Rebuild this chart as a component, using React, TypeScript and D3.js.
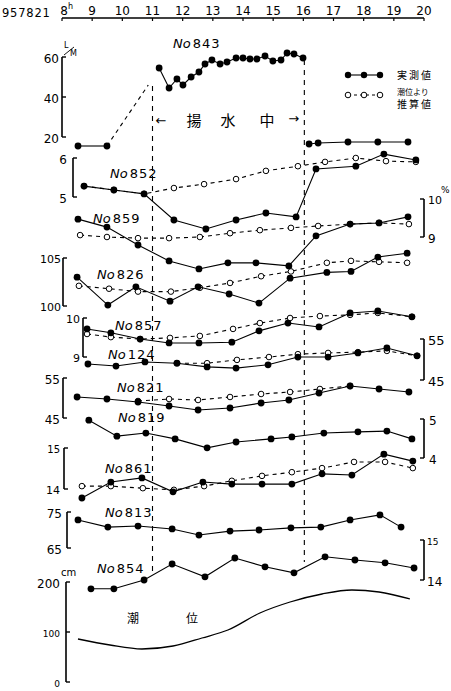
import React from 'react';
import * as d3 from 'd3';

// ---------- data ----------
const hourTicks = [8, 9, 10, 11, 12, 13, 14, 15, 16, 17, 18, 19, 20];
const pumpStart = 11;
const pumpEnd = 16;

// No843 pumping rate (L/min)
const t843Before = [8.53, 9.49];
const v843Before = [15.5, 15.5];
const t843Guess = [9.49, 10.86];
const v843Guess = [15.5, 46];
const t843Pump = [11.22, 11.55, 11.81, 12.01, 12.28, 12.54, 12.74, 12.97, 13.24, 13.47, 13.77, 14.0, 14.23, 14.46, 14.73, 14.99, 15.26, 15.46, 15.69, 15.99];
const v843Pump = [54.5, 44.5, 49, 46, 50, 52.5, 56.5, 58.5, 56.5, 57.5, 59.5, 59.5, 59, 59, 60.5, 58, 58.5, 62, 61.5, 59.5];
const t843After = [16.19, 16.49, 17.48, 18.47, 19.47];
const v843After = [16.5, 17, 17.5, 17.5, 17.5];

// No852
const t852Obs = [8.73, 9.72, 10.72, 11.71, 12.77, 13.77, 14.76, 15.76, 16.42, 17.74, 18.67, 19.73];
const v852Obs = [5.28, 5.18, 5.08, 4.41, 4.18, 4.41, 4.59, 4.49, 5.72, 5.79, 6.1, 5.95];
const t852Est = [8.73, 9.72, 10.72, 11.71, 12.71, 13.77, 14.76, 15.82, 16.72, 17.74, 18.74, 19.73];
const v852Est = [5.28, 5.18, 5.08, 5.23, 5.33, 5.46, 5.67, 5.79, 5.9, 6.0, 5.92, 5.9];

// No859
const t859Obs = [8.53, 9.49, 10.52, 11.55, 12.54, 13.5, 14.43, 15.52, 16.42, 17.55, 18.51, 19.47];
const v859Obs = [9.47, 9.26, 8.79, 8.37, 8.16, 8.32, 8.32, 8.24, 9.03, 9.34, 9.37, 9.53];
const t859Est = [8.6, 9.49, 10.52, 11.55, 12.57, 13.57, 14.56, 15.59, 16.49, 17.55, 18.51, 19.5];
const v859Est = [9.05, 9.0, 8.97, 8.97, 9.0, 9.1, 9.18, 9.24, 9.29, 9.34, 9.37, 9.34];

// No826
const t826Obs = [8.5, 9.52, 10.45, 11.58, 12.51, 13.54, 14.53, 15.56, 16.78, 17.58, 18.47, 19.44];
const v826Obs = [103.0, 100.1, 102.0, 100.5, 102.0, 101.25, 100.3, 102.9, 103.5, 103.6, 105.1, 105.5];
const t826Est = [8.56, 9.56, 10.52, 11.61, 12.57, 13.57, 14.6, 15.59, 16.78, 17.58, 18.51, 19.44];
const v826Est = [102.1, 101.8, 101.5, 101.5, 101.9, 102.4, 103.1, 103.6, 104.5, 104.7, 104.6, 104.5];

// No857
const t857Obs = [8.83, 9.62, 10.59, 11.55, 12.54, 13.63, 14.53, 15.49, 16.52, 17.55, 18.47, 19.6];
const v857Obs = [9.72, 9.62, 9.46, 9.36, 9.36, 9.38, 9.67, 9.87, 9.77, 10.13, 10.18, 10.03];
const t857Est = [8.83, 9.62, 10.59, 11.58, 12.57, 13.67, 14.56, 15.56, 16.55, 17.55, 18.47, 19.6];
const v857Est = [9.59, 9.51, 9.46, 9.49, 9.54, 9.72, 9.87, 10.0, 10.05, 10.08, 10.13, 10.03];

// No124
const t124Obs = [8.86, 9.79, 10.75, 11.81, 12.81, 13.77, 14.83, 15.82, 16.82, 17.81, 18.77, 19.77];
const v124Obs = [48.9, 48.4, 49.4, 49.1, 48.2, 47.9, 48.7, 50.6, 50.6, 51.6, 52.8, 50.9];
const t124Est = [11.81, 12.81, 13.8, 14.86, 15.82, 16.82, 17.81, 18.77, 19.77];
const v124Est = [49.1, 49.1, 49.9, 50.6, 51.3, 51.6, 51.8, 52.1, 50.9];

// No821
const t821Obs = [8.5, 9.49, 10.52, 11.55, 12.51, 13.57, 14.6, 15.52, 16.52, 17.55, 18.51, 19.5];
const v821Obs = [50.25, 49.75, 49.0, 48.0, 47.0, 47.5, 48.75, 49.5, 51.25, 53.0, 52.25, 51.5];
const t821Est = [10.52, 11.55, 12.51, 13.57, 14.6, 15.56, 16.55, 17.55];
const v821Est = [49.25, 49.75, 49.5, 50.25, 51.0, 51.5, 52.25, 53.0];

// No819
const t819Obs = [8.89, 9.82, 10.78, 11.75, 12.81, 13.77, 14.93, 15.62, 16.68, 17.81, 18.77, 19.6];
const v819Obs = [4.97, 4.56, 4.64, 4.49, 4.26, 4.41, 4.49, 4.54, 4.64, 4.67, 4.69, 4.49];

// No861
const t861Obs = [8.66, 9.62, 10.65, 11.68, 12.67, 13.63, 14.63, 15.62, 16.62, 17.61, 18.67, 19.63];
const v861Obs = [13.78, 14.17, 14.27, 13.93, 14.17, 14.12, 14.12, 14.12, 14.37, 14.34, 14.85, 14.68];
const t861Est = [8.66, 9.62, 10.68, 11.71, 12.71, 13.63, 14.63, 15.62, 16.62, 17.68, 18.71, 19.63];
const v861Est = [14.07, 14.07, 14.02, 13.98, 14.07, 14.2, 14.32, 14.41, 14.51, 14.66, 14.66, 14.51];

// No813
const t813Obs = [8.53, 9.52, 10.52, 11.65, 12.54, 13.57, 14.53, 15.59, 16.58, 17.55, 18.54, 19.24];
const v813Obs = [72.8, 70.8, 71.1, 70.3, 68.6, 69.7, 70.0, 70.6, 70.8, 72.8, 74.2, 70.8];

// No854
const t854Obs = [8.96, 9.72, 10.72, 11.65, 12.74, 13.73, 14.73, 15.69, 16.72, 17.71, 18.71, 19.67];
const v854Obs = [13.78, 13.78, 14.0, 14.4, 14.08, 14.55, 14.33, 14.18, 14.58, 14.5, 14.43, 14.3];

// tide level (cm)
const tTide = [8.53, 9.59, 10.65, 11.68, 12.64, 13.5, 14.56, 15.56, 16.62, 17.61, 18.51, 19.53];
const vTide = [86, 74, 66, 72, 88, 104, 138, 160, 176, 184, 180, 166];

// ---------- layout ----------
type Kind = 'obs' | 'est' | 'guess' | 'plain';
type Ser = { t: number[]; v: number[]; kind: Kind };
type Panel = {
  id: string;
  domain: [number, number];
  range: [number, number];
  side: 'left' | 'right';
  axisX: number;
  ticks: number[];
  tickLabels: string[];
  tickSize: number[];
  gap: number;
  label?: [number, number];
  series: Ser[];
};

const x = d3.scaleLinear().domain([8, 20]).range([62, 424]);

const panels: Panel[] = [
  { id: '843', domain: [20, 60], range: [137, 57], side: 'left', axisX: 62, ticks: [20, 40, 60], tickLabels: ['20', '40', '60'], tickSize: [12, 12, 12], gap: 3, label: [173, 48],
    series: [
      { t: t843Guess, v: v843Guess, kind: 'guess' },
      { t: t843Before, v: v843Before, kind: 'obs' },
      { t: t843Pump, v: v843Pump, kind: 'obs' },
      { t: t843After, v: v843After, kind: 'obs' },
    ] },
  { id: '852', domain: [5, 6], range: [197, 158], side: 'left', axisX: 73, ticks: [5, 6], tickLabels: ['5', '6'], tickSize: [12, 12], gap: 6, label: [110, 178],
    series: [{ t: t852Est, v: v852Est, kind: 'est' }, { t: t852Obs, v: v852Obs, kind: 'obs' }] },
  { id: '859', domain: [9, 10], range: [237, 199], side: 'right', axisX: 424, ticks: [9, 10], tickLabels: ['9', '10'], tickSize: [12, 11], gap: 4, label: [93, 223],
    series: [{ t: t859Est, v: v859Est, kind: 'est' }, { t: t859Obs, v: v859Obs, kind: 'obs' }] },
  { id: '826', domain: [100, 105], range: [306, 258], side: 'left', axisX: 63, ticks: [100, 105], tickLabels: ['100', '105'], tickSize: [11, 11], gap: 2, label: [97, 279],
    series: [{ t: t826Est, v: v826Est, kind: 'est' }, { t: t826Obs, v: v826Obs, kind: 'obs' }] },
  { id: '857', domain: [9, 10], range: [357, 318], side: 'left', axisX: 83, ticks: [9, 10], tickLabels: ['9', '10'], tickSize: [11, 11], gap: 3, label: [115, 330],
    series: [{ t: t857Est, v: v857Est, kind: 'est' }, { t: t857Obs, v: v857Obs, kind: 'obs' }] },
  { id: '124', domain: [45, 55], range: [380, 339], side: 'right', axisX: 424, ticks: [45, 55], tickLabels: ['45', '55'], tickSize: [13, 13], gap: 4, label: [108, 359],
    series: [{ t: t124Est, v: v124Est, kind: 'est' }, { t: t124Obs, v: v124Obs, kind: 'obs' }] },
  { id: '821', domain: [45, 55], range: [418, 378], side: 'left', axisX: 63, ticks: [45, 55], tickLabels: ['45', '55'], tickSize: [12, 12], gap: 3, label: [117, 392],
    series: [{ t: t821Est, v: v821Est, kind: 'est' }, { t: t821Obs, v: v821Obs, kind: 'obs' }] },
  { id: '819', domain: [4, 5], range: [458, 419], side: 'right', axisX: 424, ticks: [4, 5], tickLabels: ['4', '5'], tickSize: [12, 12], gap: 5, label: [118, 422],
    series: [{ t: t819Obs, v: v819Obs, kind: 'obs' }] },
  { id: '861', domain: [14, 15], range: [489, 448], side: 'left', axisX: 64, ticks: [14, 15], tickLabels: ['14', '15'], tickSize: [11, 10], gap: 4, label: [105, 473],
    series: [{ t: t861Est, v: v861Est, kind: 'est' }, { t: t861Obs, v: v861Obs, kind: 'obs' }] },
  { id: '813', domain: [65, 75], range: [548, 512], side: 'left', axisX: 67, ticks: [65, 75], tickLabels: ['65', '75'], tickSize: [12, 12], gap: 5, label: [105, 517],
    series: [{ t: t813Obs, v: v813Obs, kind: 'obs' }] },
  { id: '854', domain: [14, 15], range: [580, 540], side: 'right', axisX: 424, ticks: [14, 15], tickLabels: ['14', '15'], tickSize: [12, 9], gap: 3, label: [97, 573],
    series: [{ t: t854Obs, v: v854Obs, kind: 'obs' }] },
  { id: 'tide', domain: [0, 200], range: [682, 582], side: 'left', axisX: 66, ticks: [0, 100, 200], tickLabels: ['0', '100', '200'], tickSize: [9, 9, 12], gap: 6,
    series: [{ t: tTide, v: vTide, kind: 'plain' }] },
];

const NUM_FONT = "'DejaVu Sans', sans-serif";
const JP_FONT = "'Noto Sans CJK JP', sans-serif";

function PanelView({ p }: { p: Panel }) {
  const y = d3.scaleLinear().domain(p.domain).range(p.range);
  const dir = p.side === 'left' ? 1 : -1;
  const top = y(p.domain[1]);
  const bot = y(p.domain[0]);
  return (
    <g>
      <line x1={p.axisX} x2={p.axisX} y1={top} y2={bot} stroke="#000" strokeWidth={1.6} />
      {p.ticks.map((tk, i) => (
        <g key={i}>
          <line x1={p.axisX} x2={p.axisX + dir * 4} y1={y(tk)} y2={y(tk)} stroke="#000" strokeWidth={1.4} />
          <text
            x={p.axisX - dir * p.gap}
            y={y(tk) + 2}
            textAnchor={p.side === 'left' ? 'end' : 'start'}
            dominantBaseline="middle"
            fontFamily={NUM_FONT}
            fontSize={p.tickSize[i]}
          >
            {p.tickLabels[i]}
          </text>
        </g>
      ))}
      {p.series.map((s, si) => {
        const pts: [number, number][] = s.t.map((t, i) => [x(t), y(s.v[i])]);
        const line = d3.line().curve(s.kind === 'plain' ? d3.curveMonotoneX : d3.curveLinear);
        const dashed = s.kind === 'est' || s.kind === 'guess';
        return (
          <g key={si}>
            <path d={line(pts) || ''} fill="none" stroke="#000" strokeWidth={s.kind === 'plain' ? 1.3 : 1.1} strokeDasharray={dashed ? '4,4' : undefined} />
            {s.kind === 'obs' && pts.map((pt, i) => <circle key={i} cx={pt[0]} cy={pt[1]} r={3.4} fill="#000" />)}
            {s.kind === 'est' && pts.map((pt, i) => <circle key={i} cx={pt[0]} cy={pt[1]} r={2.8} fill="#fff" stroke="#000" strokeWidth={1} />)}
          </g>
        );
      })}
      {p.label && (
        <text x={p.label[0]} y={p.label[1]} fontFamily={NUM_FONT} fontSize={13}>
          <tspan fontStyle="italic">No</tspan>
          <tspan dx={2} letterSpacing={1}>{p.id}</tspan>
        </text>
      )}
    </g>
  );
}

export default function App() {
  return (
    <svg width={451} height={691} style={{ position: 'absolute', left: 0, top: 0, background: '#fff' }}>
      <rect x={0} y={0} width={451} height={691} fill="#fff" />
      {/* top time axis */}
      <text x={2} y={17} fontFamily={NUM_FONT} fontSize={11.5} letterSpacing={0.8}>957821</text>
      <line x1={x(8)} x2={x(20)} y1={18} y2={18} stroke="#000" strokeWidth={1.3} />
      {hourTicks.map((h) => (
        <g key={h}>
          <line x1={x(h)} x2={x(h)} y1={18} y2={21} stroke="#000" strokeWidth={1.2} />
          <text x={x(h) + (h === 8 ? 2 : 0)} y={15} textAnchor="middle" fontFamily={NUM_FONT} fontSize={12}>{h}</text>
        </g>
      ))}
      <text x={x(8) + 6} y={9} fontFamily={NUM_FONT} fontSize={8}>h</text>

      {/* pumping period markers */}
      <line x1={x(pumpStart)} x2={x(pumpStart)} y1={86} y2={575} stroke="#000" strokeWidth={1.1} strokeDasharray="5,5" />
      <line x1={x(pumpEnd) + 1} x2={x(pumpEnd) + 1} y1={60} y2={562} stroke="#000" strokeWidth={1.1} strokeDasharray="5,5" />
      <text x={x(pumpStart) + 3} y={125} fontFamily={NUM_FONT} fontSize={13}>←</text>
      <text x={x(pumpEnd) - 15} y={123} fontFamily={NUM_FONT} fontSize={13}>→</text>
      <text x={194} y={126} textAnchor="middle" fontFamily={JP_FONT} fontSize={15}>揚</text>
      <text x={228} y={126} textAnchor="middle" fontFamily={JP_FONT} fontSize={15}>水</text>
      <text x={267} y={126} textAnchor="middle" fontFamily={JP_FONT} fontSize={15}>中</text>

      {panels.map((p) => <PanelView key={p.id} p={p} />)}

      {/* units */}
      <text x={64} y={48} fontFamily={NUM_FONT} fontSize={8}>L</text>
      <line x1={64} x2={74} y1={55} y2={47} stroke="#000" strokeWidth={0.9} />
      <text x={70} y={56} fontFamily={NUM_FONT} fontSize={8}>M</text>
      <text x={441} y={193} fontFamily={NUM_FONT} fontSize={9}>%</text>
      <text x={61} y={576} fontFamily={NUM_FONT} fontSize={10}>cm</text>

      {/* tide label */}
      <text x={133} y={623} textAnchor="middle" fontFamily={JP_FONT} fontSize={12}>潮</text>
      <text x={192} y={623} textAnchor="middle" fontFamily={JP_FONT} fontSize={12}>位</text>

      {/* legend */}
      <line x1={348} x2={380} y1={75} y2={75} stroke="#000" strokeWidth={1.1} />
      {[348, 364, 380].map((cx) => <circle key={cx} cx={cx} cy={75} r={3.2} fill="#000" />)}
      <text x={397} y={79} fontFamily={JP_FONT} fontSize={10} letterSpacing={2}>実測値</text>
      <line x1={348} x2={380} y1={95} y2={95} stroke="#000" strokeWidth={1} strokeDasharray="3,3" />
      {[348, 364, 380].map((cx) => <circle key={cx} cx={cx} cy={95} r={2.8} fill="#fff" stroke="#000" strokeWidth={1} />)}
      <text x={397} y={95} fontFamily={JP_FONT} fontSize={8}>潮位より</text>
      <text x={397} y={108} fontFamily={JP_FONT} fontSize={10} letterSpacing={2}>推算値</text>
    </svg>
  );
}
